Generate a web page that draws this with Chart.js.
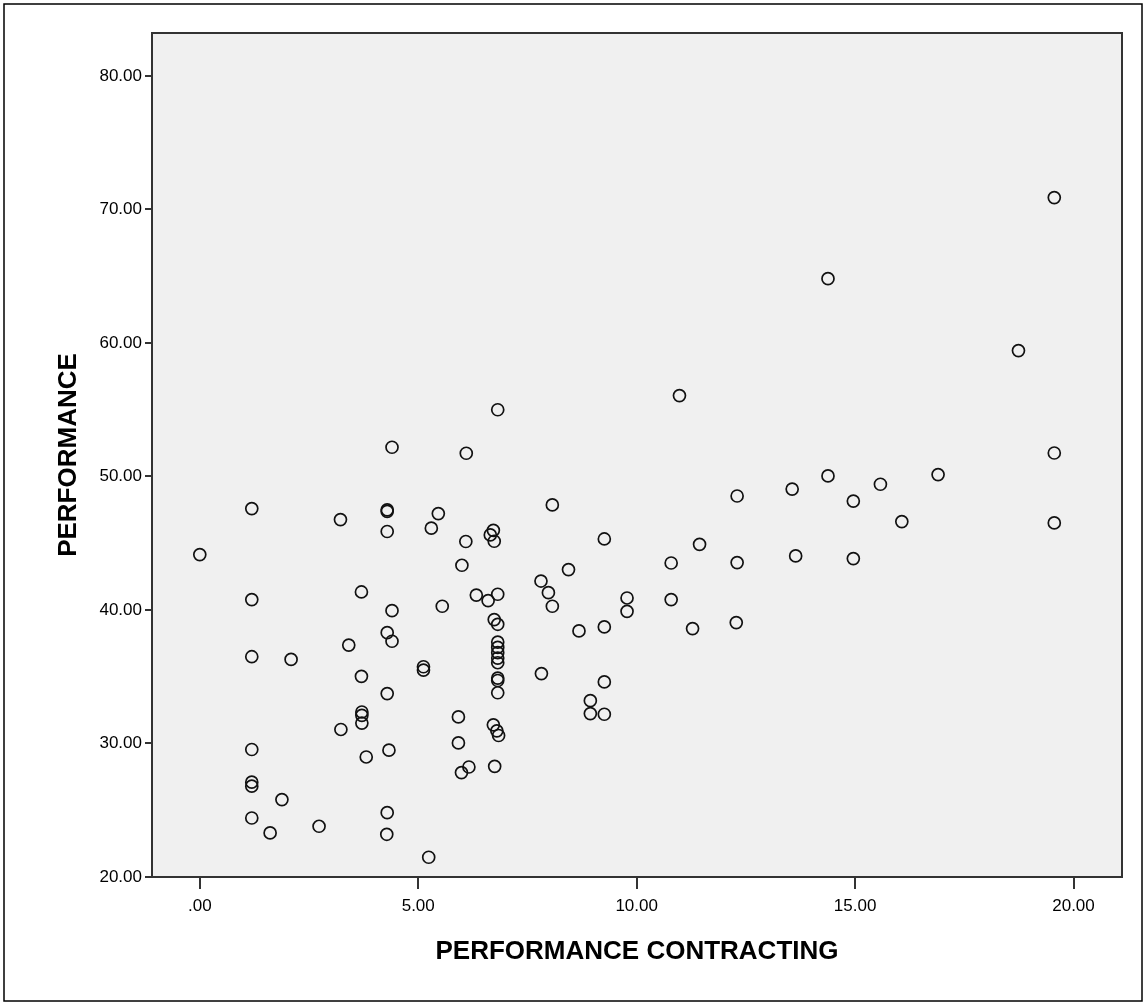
<!DOCTYPE html>
<html>
<head>
<meta charset="utf-8">
<script src="https://cdn.jsdelivr.net/npm/chart.js@4.4.1/dist/chart.umd.min.js"></script>
<style>
  html, body { margin: 0; padding: 0; background: #ffffff; }
  #wrap { position: relative; width: 1147px; height: 1005px; }
</style>
</head>
<body>
<div id="wrap"><canvas id="grafic"></canvas></div>
<script>
// Dades llegides del gràfic (PERFORMANCE CONTRACTING vs PERFORMANCE)
const contracting = [
  0.00, 1.19, 1.19, 1.19, 1.19, 1.19, 1.19, 1.19, 1.61, 1.88,
  2.09, 2.73, 3.22, 3.23, 3.41, 3.70, 3.70, 3.71, 3.71, 3.71,
  3.81, 4.29, 4.29, 4.29, 4.29, 4.29, 4.33, 4.29, 4.28, 4.40,
  4.40, 4.40, 5.12, 5.12, 5.24, 5.30, 5.46, 5.55, 5.92, 5.92,
  6.00, 5.99, 6.10, 6.09, 6.16, 6.33, 6.60, 6.72, 6.65, 6.74,
  6.74, 6.75, 6.72, 6.82, 6.82, 6.82, 6.82, 6.82, 6.82, 6.82,
  6.82, 6.82, 6.82, 6.82, 6.80, 6.84, 7.81, 7.82, 7.98, 8.07,
  8.07, 8.44, 8.68, 8.94, 8.94, 9.26, 9.26, 9.26, 9.26, 9.78,
  9.78, 10.79, 10.79, 10.98, 11.28, 11.44, 12.30, 12.30, 12.28, 13.56,
  13.64, 14.38, 14.38, 14.96, 14.96, 15.58, 16.07, 16.90, 18.74, 19.56,
  19.56, 19.56
];
const performance = [
  44.15, 47.60, 40.78, 36.50, 29.55, 27.10, 26.80, 24.42, 23.30, 25.80,
  36.30, 23.80, 46.77, 31.05, 37.37, 41.35, 35.03, 32.36, 32.11, 31.53,
  28.99, 47.50, 47.38, 45.88, 38.30, 33.74, 29.50, 24.82, 23.20, 52.19,
  39.95, 37.66, 35.75, 35.50, 21.48, 46.13, 47.22, 40.28, 31.99, 30.04,
  43.35, 27.82, 51.74, 45.13, 28.24, 41.12, 40.70, 45.97, 45.62, 45.15,
  39.28, 28.29, 31.40, 55.00, 41.18, 38.93, 37.60, 37.20, 36.80, 36.40,
  36.05, 34.90, 34.72, 33.80, 30.95, 30.60, 42.17, 35.24, 41.30, 47.87,
  40.28, 43.03, 38.43, 33.21, 32.24, 45.32, 38.73, 34.61, 32.19, 40.90,
  39.90, 43.52, 40.78, 56.06, 38.61, 44.92, 48.54, 43.55, 39.06, 49.06,
  44.05, 64.82, 50.04, 48.16, 43.85, 49.42, 46.62, 50.14, 59.43, 70.89,
  51.76, 46.52
];

// Marques dels eixos
const xTickValues = [0, 5, 10, 15, 20];
const xTickLabels = ['.00', '5.00', '10.00', '15.00', '20.00'];
const yTickValues = [20, 30, 40, 50, 60, 70, 80];
const yTickLabels = ['20.00', '30.00', '40.00', '50.00', '60.00', '70.00', '80.00'];

const fontTicks = { family: "'Liberation Sans', Arial, sans-serif", size: 17 };
const fontTitol = { family: "'Liberation Sans', Arial, sans-serif", size: 26, weight: 'bold' };

// Fons gris de l'àrea i marc exterior
const fonsPlugin = {
  id: 'fons',
  beforeDraw(chart) {
    const { ctx, chartArea: a } = chart;
    ctx.save();
    ctx.fillStyle = '#f0f0f0';
    ctx.fillRect(a.left, a.top, a.right - a.left, a.bottom - a.top);
    ctx.restore();
  },
  afterDraw(chart) {
    const { ctx, chartArea: a } = chart;
    ctx.save();
    ctx.strokeStyle = '#333333';
    ctx.lineWidth = 2;
    ctx.strokeRect(a.left, a.top, a.right - a.left, a.bottom - a.top);
    ctx.strokeStyle = '#000000';
    ctx.lineWidth = 1.5;
    ctx.strokeRect(4, 4, 1138, 997);
    ctx.restore();
  }
};

function crearGrafica() {
  const ctx = document.getElementById('grafic').getContext('2d');
  const punts = contracting.map((x, i) => ({ x: x, y: performance[i] }));

  new Chart(ctx, {
    type: 'scatter',
    data: {
      datasets: [{
        data: punts,
        pointStyle: 'circle',
        pointRadius: 6,
        borderWidth: 1.7,
        borderColor: '#111111',
        backgroundColor: 'rgba(0,0,0,0)'
      }]
    },
    options: {
      responsive: true,
      maintainAspectRatio: false,
      animation: false,
      events: [],
      layout: { padding: { left: 47, top: 33, right: 25, bottom: 28 } },
      plugins: { legend: { display: false }, tooltip: { enabled: false } },
      scales: {
        x: {
          type: 'linear',
          min: -1.094,
          max: 21.11,
          afterBuildTicks: s => { s.ticks = xTickValues.map(v => ({ value: v })); },
          afterFit: s => { s.height = 100; },
          border: { display: false },
          grid: { drawOnChartArea: false, drawTicks: true, tickLength: 12, color: '#333333', lineWidth: 2 },
          ticks: {
            color: '#000000',
            font: fontTicks,
            padding: 7,
            maxRotation: 0,
            callback: (v, i) => xTickLabels[i]
          },
          title: {
            display: true,
            text: 'PERFORMANCE CONTRACTING',
            color: '#000000',
            font: fontTitol,
            padding: { top: 0, bottom: 10 }
          }
        },
        y: {
          type: 'linear',
          min: 20,
          max: 83.22,
          afterBuildTicks: s => { s.ticks = yTickValues.map(v => ({ value: v })); },
          afterFit: s => { s.width = 105; },
          border: { display: false },
          grid: { drawOnChartArea: false, drawTicks: true, tickLength: 7, color: '#333333', lineWidth: 2 },
          ticks: {
            color: '#000000',
            font: fontTicks,
            padding: 3,
            callback: (v, i) => yTickLabels[i]
          },
          title: {
            display: true,
            text: 'PERFORMANCE',
            color: '#000000',
            font: fontTitol,
            padding: { top: 6, bottom: 0 }
          }
        }
      }
    },
    plugins: [fonsPlugin]
  });
}

crearGrafica();
</script>
</body>
</html>
